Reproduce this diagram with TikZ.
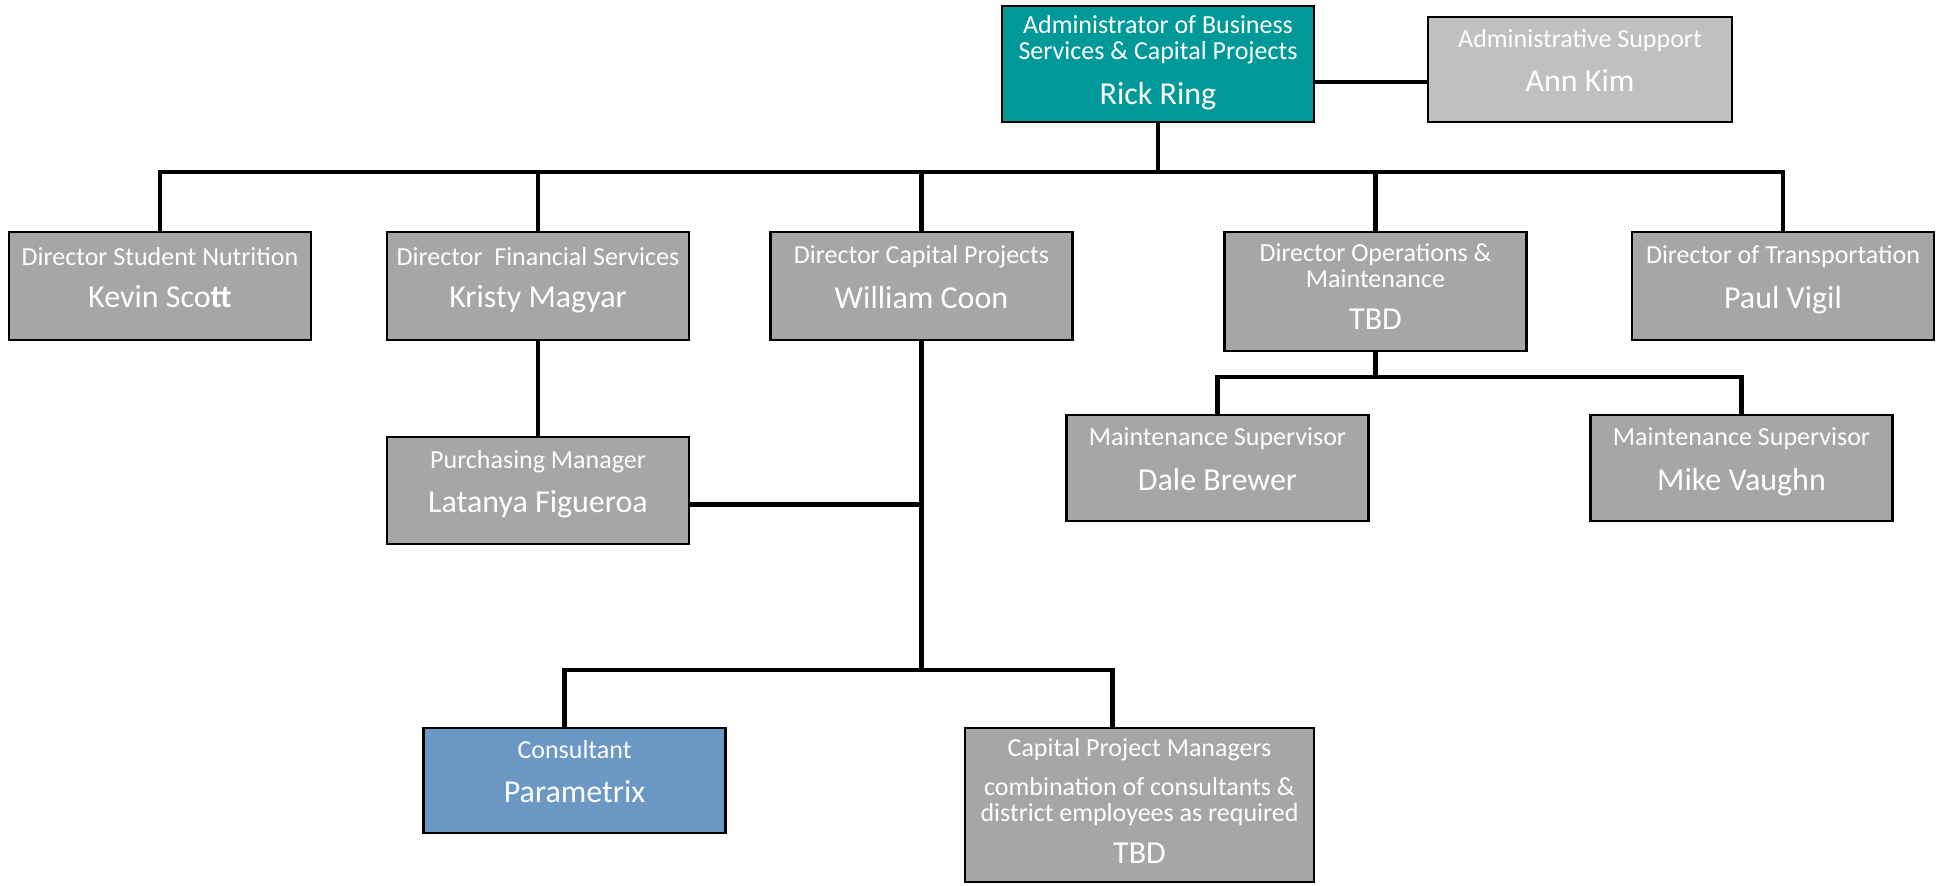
\documentclass[tikz,border=0pt]{standalone}
\usepackage{fontspec}
\setmainfont{Carlito}
\definecolor{adminteal}{HTML}{009999}
\definecolor{supportgray}{HTML}{C0C0C0}
\definecolor{staffgray}{HTML}{A6A6A6}
\definecolor{consultblue}{HTML}{6B98C4}
\newcommand{\nm}[1]{{\fontsize{16}{19}\selectfont #1}}
\begin{document}
\begin{tikzpicture}[x=0.5pt,y=-0.5pt,
  post/.style={draw=black,line width=1.2pt,fill=staffgray,text=white,align=center,
    font=\fontsize{13}{13}\selectfont,minimum width=151pt,minimum height=54pt,
    text depth=9pt,inner sep=2pt},
  link/.style={line width=2.2pt}]
\useasboundingbox (0,0) rectangle (1937,885);
\node[post,fill=adminteal,minimum width=156pt,minimum height=58pt,text depth=4pt] (admin) at (1158,64) {Administrator of Business\\Services \& Capital Projects\\[8pt]\nm{Rick Ring}};
\node[post,fill=supportgray,minimum width=152pt,minimum height=52.5pt] (support) at (1580,69.5) {Administrative Support\\[8pt]\nm{Ann Kim}};
\node[post] (nutrition) at (160,286) {Director Student Nutrition\\[8pt]\nm{Kevin Sco\textbf{tt}}};
\node[post] (finance) at (538,286) {Director\ \ Financial Services\\[8pt]\nm{Kristy Magyar}};
\node[post] (capital) at (921.5,286) {Director Capital Projects\\[8pt]\nm{William Coon}};
\node[post,minimum height=59.5pt,text depth=5pt] (ops) at (1375.5,291.5) {Director Operations \&\\Maintenance\\[8pt]\nm{TBD}};
\node[post] (transport) at (1783,286) {Director of Transportation\\[8pt]\nm{Paul Vigil}};
\node[post,minimum height=53pt] (dale) at (1217.5,468) {Maintenance Supervisor\\[8pt]\nm{Dale Brewer}};
\node[post,minimum height=53pt] (mike) at (1741.5,468) {Maintenance Supervisor\\[8pt]\nm{Mike Vaughn}};
\node[post,minimum height=53.5pt] (purchasing) at (538,490.5) {Purchasing Manager\\[8pt]\nm{Latanya Figueroa}};
\node[post,fill=consultblue,minimum height=52.5pt] (consultant) at (574.5,780.5) {Consultant\\[9pt]\nm{Parametrix}};
\node[post,minimum width=174.5pt,minimum height=77pt,text depth=4pt] (cpm) at (1139.5,805) {Capital Project Managers\\[6.5pt]combination of consultants \&\\district employees as required\\[8pt]\nm{TBD}};
\coordinate (topbus) at (1158,172);
\coordinate (opsbus) at (1375.5,377);
\coordinate (lowbus) at (921.5,670);
\draw[link] ([yshift=-9pt]admin.east) -- ([yshift=-9pt]admin.east -| support.west);
\draw[link] (admin.south) -- (topbus);
\draw[link] (nutrition.north) |- (transport.north |- topbus) -- (transport.north);
\draw[link] (finance.north) -- (finance.north |- topbus);
\draw[link] (capital.north) -- (capital.north |- topbus);
\draw[link] (ops.north) -- (ops.north |- topbus);
\draw[link] (ops.south) -- (opsbus);
\draw[link] (dale.north) |- (opsbus) -| (mike.north);
\draw[link] (finance.south) -- (purchasing.north);
\draw[link] (capital.south) -- (lowbus);
\draw[link] ([yshift=-7pt]purchasing.east) -- ([yshift=-7pt]purchasing.east -| capital.south);
\draw[link] ([xshift=-5pt]consultant.north) |- (lowbus) -| ([xshift=-13.5pt]cpm.north);
\end{tikzpicture}
\end{document}
